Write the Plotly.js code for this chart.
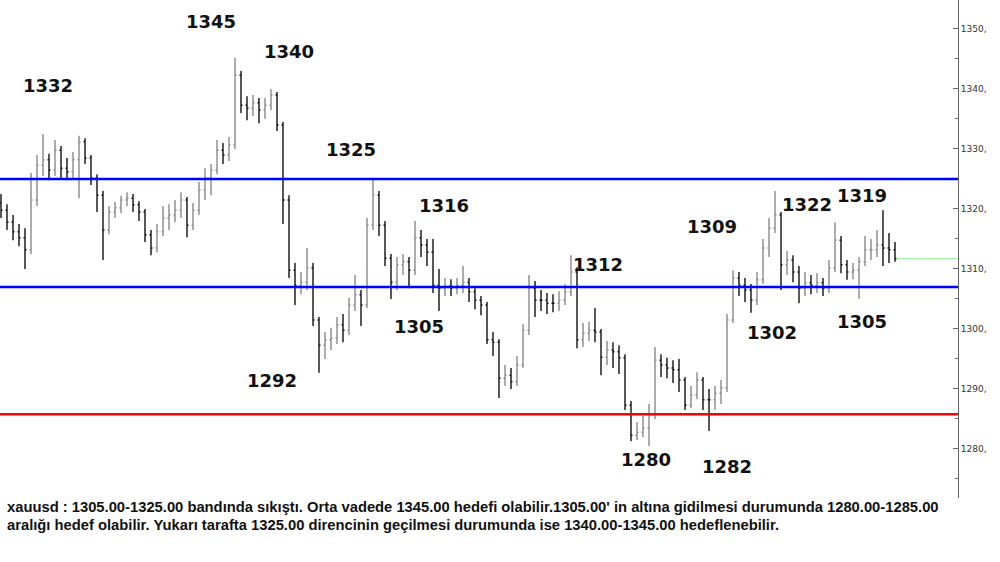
<!DOCTYPE html>
<html>
<head>
<meta charset="utf-8">
<script src="https://cdn.plot.ly/plotly-3.0.1.min.js"></script>
<style>html,body{margin:0;padding:0;background:#fff;}#chart{width:1000px;height:562px;}</style>
</head>
<body>
<div id="chart"></div>
<script>
// ---- data ----
const opens = [1321.0,1319.8,1317.8,1316.2,1315.2,1313.2,1321.5,1327.3,1328.2,1326.5,
1329.8,1326.8,1326.2,1328.2,1331.2,1328.5,1325.2,1322.3,1316.5,1319.5,
1320.2,1321.5,1321.8,1320.7,1319.5,1315.7,1313.5,1316.2,1318.5,1319.0,
1319.8,1321.5,1317.3,1319.8,1323.2,1325.2,1326.5,1329.8,1329.0,1330.7,
1342.3,1337.3,1336.8,1337.7,1336.5,1337.3,1339.0,1334.0,1321.5,1309.8,
1307.3,1307.8,1310.2,1301.5,1297.3,1298.2,1298.5,1300.7,1299.8,1304.0,
1305.7,1304.0,1317.3,1322.3,1317.3,1311.8,1307.8,1310.7,1311.2,1309.8,
1315.2,1314.0,1312.8,1307.3,1306.8,1307.2,1306.8,1307.3,1307.8,1306.2,
1304.8,1304.0,1298.2,1297.8,1291.8,1292.3,1291.2,1294.0,1299.8,1306.8,
1304.8,1304.8,1304.3,1304.3,1304.8,1306.2,1309.5,1298.2,1299.3,1299.8,
1299.5,1295.3,1296.5,1296.2,1295.2,1287.3,1282.3,1282.8,1283.5,1285.7,
1294.8,1294.0,1293.5,1293.2,1291.5,1287.3,1289.0,1291.5,1288.2,1288.2,
1289.3,1290.2,1301.5,1308.5,1307.3,1306.5,1304.8,1308.2,1313.5,1316.8,
1319.0,1310.7,1311.5,1309.5,1306.8,1307.7,1307.3,1307.7,1306.8,1310.2,
1314.8,1310.7,1309.5,1309.8,1311.2,1313.2,1313.2,1314.0,1313.5,1313.2];

const highs = [1322.5,1320.8,1319.0,1317.5,1316.8,1326.0,1329.0,1332.5,1329.2,1331.5,
1330.5,1328.5,1329.5,1332.2,1331.8,1329.0,1325.8,1323.0,1320.5,1321.2,
1322.2,1322.8,1322.5,1321.3,1320.0,1316.5,1317.5,1320.5,1320.8,1321.5,
1322.8,1322.0,1321.0,1324.5,1326.8,1327.5,1331.5,1331.0,1332.0,1345.2,
1343.0,1338.8,1339.0,1338.5,1338.5,1340.0,1339.5,1334.5,1322.3,1311.0,
1309.5,1313.5,1311.0,1302.0,1299.5,1300.2,1302.0,1302.5,1305.2,1309.0,
1306.5,1318.5,1325.2,1323.0,1318.0,1312.5,1312.0,1312.5,1312.0,1318.0,
1316.5,1315.0,1315.0,1310.0,1308.5,1308.3,1308.5,1310.5,1308.5,1306.8,
1305.5,1304.5,1299.5,1298.3,1294.0,1293.5,1295.5,1300.8,1309.0,1308.0,
1306.5,1306.0,1305.8,1306.3,1307.5,1312.3,1310.3,1301.0,1301.2,1303.5,
1300.0,1298.0,1297.8,1297.3,1295.8,1288.0,1284.5,1285.5,1287.5,1297.0,
1295.8,1295.2,1294.8,1295.0,1292.0,1290.5,1292.8,1292.0,1290.0,1290.5,
1291.5,1302.5,1309.8,1309.5,1308.5,1307.5,1309.5,1315.0,1318.5,1323.0,
1319.5,1313.0,1312.3,1310.5,1309.5,1309.0,1309.3,1308.5,1311.5,1317.8,
1315.5,1311.5,1311.0,1312.0,1315.5,1315.0,1316.5,1319.8,1316.0,1314.5];

const lows = [1318.5,1316.5,1314.8,1313.8,1310.0,1312.5,1320.5,1325.5,1324.8,1325.5,
1325.0,1324.8,1325.2,1321.8,1327.5,1324.0,1319.5,1311.5,1315.8,1318.5,
1319.3,1320.5,1319.5,1318.0,1314.5,1312.3,1312.8,1315.5,1316.5,1317.8,
1318.5,1315.3,1316.5,1319.0,1321.5,1322.3,1325.8,1327.5,1328.0,1330.0,
1336.0,1334.8,1335.5,1334.3,1335.0,1336.5,1333.0,1317.5,1308.5,1304.0,
1305.8,1306.5,1300.5,1292.7,1295.0,1296.5,1297.5,1297.8,1299.0,1303.0,
1300.5,1303.5,1316.5,1315.5,1310.5,1305.0,1306.5,1309.0,1306.8,1309.0,
1312.0,1310.5,1306.0,1303.0,1305.5,1305.5,1305.8,1306.0,1304.5,1303.3,
1302.3,1297.5,1295.5,1288.5,1290.5,1290.0,1290.5,1293.5,1299.0,1302.0,
1303.0,1302.5,1302.8,1303.0,1304.0,1305.5,1296.8,1297.0,1298.0,1297.8,
1292.3,1294.0,1293.5,1292.5,1286.5,1281.3,1281.5,1282.0,1280.5,1285.0,
1292.0,1291.8,1291.0,1289.5,1286.5,1286.8,1288.3,1286.5,1283.0,1286.5,
1287.5,1289.5,1301.0,1305.5,1304.5,1302.7,1304.0,1307.5,1312.0,1316.0,
1306.5,1309.0,1307.8,1304.3,1305.5,1305.8,1306.0,1305.5,1306.0,1309.5,
1309.3,1308.2,1308.3,1305.0,1310.5,1311.5,1312.0,1310.5,1311.0,1311.2];

const closes = [1319.8,1317.8,1316.2,1315.2,1313.2,1321.5,1327.3,1328.2,1326.5,1329.8,
1326.8,1326.2,1328.2,1331.2,1328.5,1325.2,1322.3,1316.5,1319.5,1320.2,
1321.5,1321.8,1320.7,1319.5,1315.7,1313.5,1316.2,1318.5,1319.0,1319.8,
1321.5,1317.3,1319.8,1323.2,1325.2,1326.5,1329.8,1329.0,1330.7,1342.3,
1337.3,1336.8,1337.7,1336.5,1337.3,1339.0,1334.0,1321.5,1309.8,1307.3,
1307.8,1310.2,1301.5,1297.3,1298.2,1298.5,1300.7,1299.8,1304.0,1305.7,
1304.0,1317.3,1322.3,1317.3,1311.8,1307.8,1310.7,1311.2,1309.8,1315.2,
1314.0,1312.8,1307.3,1306.8,1307.2,1306.8,1307.3,1307.8,1306.2,1304.8,
1304.0,1298.2,1297.8,1291.8,1292.3,1291.2,1294.0,1299.8,1306.8,1304.8,
1304.8,1304.3,1304.3,1304.8,1306.2,1309.5,1298.2,1299.3,1299.8,1299.5,
1295.3,1296.5,1296.2,1295.2,1287.3,1282.3,1282.8,1283.5,1285.7,1294.8,
1294.0,1293.5,1293.2,1291.5,1287.3,1289.0,1291.5,1288.2,1288.2,1289.3,
1290.2,1301.5,1308.5,1307.3,1306.5,1304.8,1308.2,1313.5,1316.8,1319.0,
1310.7,1311.5,1309.5,1306.8,1307.7,1307.3,1307.7,1306.8,1310.2,1314.8,
1310.7,1309.5,1309.8,1311.2,1313.2,1313.2,1314.0,1313.5,1313.2,1311.7];

// horizontal levels
const resistanceLevel = 1325;
const supportLevel = 1307;
const targetLevel = 1285.8;

// y-axis ticks
const tickValues = [1280, 1290, 1300, 1310, 1320, 1330, 1340, 1350];
const tickLabels = ['1280,', '1290,', '1300,', '1310,', '1320,', '1330,', '1340,', '1350,'];

// level labels drawn on the chart
const levelLabels = ['1332','1345','1340','1325','1316','1305','1292','1312','1280','1282','1309','1322','1319','1302','1305'];

const commentLines = [
  "xauusd : 1305.00-1325.00 bandında sıkıştı. Orta vadede 1345.00 hedefi olabilir.1305.00' in altına gidilmesi durumunda 1280.00-1285.00",
  "aralığı hedef olabilir. Yukarı tarafta 1325.00 direncinin geçilmesi durumunda ise 1340.00-1345.00 hedeflenebilir."
];

// ---- build ----
const idx = closes.map((_, i) => i);

const trace = {
  type: 'ohlc',
  x: idx, open: opens, high: highs, low: lows, close: closes,
  increasing: {line: {color: '#8a8a8a', width: 1.4}},
  decreasing: {line: {color: '#111111', width: 1.4}},
  tickwidth: 0.25,
  hoverinfo: 'skip'
};

// label positions in pixel space (x px, y px)
const labelPix = [[48,86],[211,22],[289,52],[351,150],[444,206],[419,327],[272,381],[598,265],[646,460],[727,467],[712,227],[807,205],[862,196],[772,333],[862,322]];
const pxToX = px => (px - 1) / 6;
const pyToY = py => 1350 - (py - 29) / 6;

const annotations = levelLabels.map((t, k) => ({
  x: pxToX(labelPix[k][0]), y: pyToY(labelPix[k][1]), xref: 'x', yref: 'y',
  text: t, showarrow: false, xanchor: 'center', yanchor: 'middle',
  font: {family: 'DejaVu Sans', size: 18, color: '#111', weight: 'bold'}
}));

commentLines.forEach((line, k) => {
  annotations.push({
    x: 5 / 958, y: (498 - (507 + 18 * k)) / 498, xref: 'paper', yref: 'paper',
    text: '<b>' + line + '</b>', showarrow: false, xanchor: 'left', yanchor: 'middle',
    font: {family: 'Liberation Sans', size: 14.75, color: '#111'}
  });
});

const lastIdx = closes.length - 1;
const shapes = [
  {type: 'line', xref: 'paper', x0: 0, x1: 1, yref: 'y', y0: resistanceLevel, y1: resistanceLevel, line: {color: '#0000ff', width: 2.5}},
  {type: 'line', xref: 'paper', x0: 0, x1: 1, yref: 'y', y0: supportLevel, y1: supportLevel, line: {color: '#0000ff', width: 2.5}},
  {type: 'line', xref: 'paper', x0: 0, x1: 1, yref: 'y', y0: targetLevel, y1: targetLevel, line: {color: '#ff0000', width: 2.5}},
  {type: 'line', xref: 'x', x0: lastIdx + 0.3, x1: 159.5, yref: 'y', y0: closes[lastIdx], y1: closes[lastIdx], line: {color: '#90ee90', width: 1}}
];

const layout = {
  width: 1000, height: 562,
  margin: {l: 0, r: 42, t: 0, b: 64},
  paper_bgcolor: '#ffffff', plot_bgcolor: '#ffffff',
  showlegend: false,
  xaxis: {visible: false, range: [-1/6, 159.5], rangeslider: {visible: false}, fixedrange: true},
  yaxis: {
    side: 'right', range: [1271.83, 1354.83], showgrid: false, zeroline: false,
    showline: true, linecolor: '#666', linewidth: 1,
    tickmode: 'array', tickvals: tickValues, ticktext: tickLabels,
    ticks: 'inside', ticklen: 5, tickcolor: '#666', tickwidth: 1,
    tickfont: {family: 'DejaVu Sans', size: 9, color: '#333'},
    minor: {dtick: 5, tick0: 1275, ticks: 'inside', ticklen: 3, tickcolor: '#666', showgrid: false},
    fixedrange: true
  },
  shapes: shapes,
  annotations: annotations
};

Plotly.newPlot('chart', [trace], layout, {displayModeBar: false, staticPlot: true});
</script>
</body>
</html>
